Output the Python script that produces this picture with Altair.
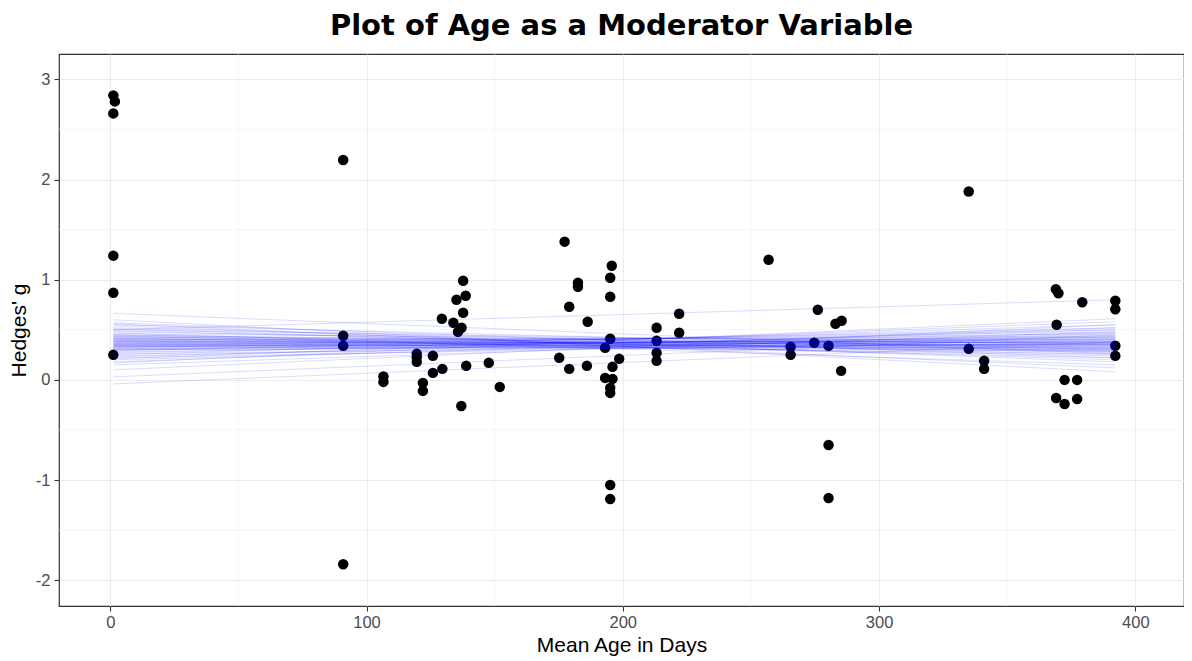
import altair as alt
import pandas as pd

# ---- data ----
age = [1.2, 1.8, 1.2, 1.2, 1.2, 1.2,
       90.9, 90.9, 90.9, 90.9,
       106.6, 106.6,
       119.6, 119.6, 119.6,
       122.0, 122.0,
       125.9, 125.9, 129.6, 129.4, 133.9, 135.1, 138.7, 137.7, 137.7,
       137.1, 135.7, 138.9, 137.0, 147.7, 152.0,
       177.3, 179.1, 179.1, 175.2, 182.5, 182.5, 186.3, 186.0,
       195.7, 195.1, 195.1, 195.1, 195.1, 195.1, 195.1, 195.1,
       193.1, 193.1, 198.6, 196.0, 196.0,
       213.2, 213.2, 213.2, 213.2, 222.0, 222.0,
       256.9, 265.5, 265.5, 274.7, 276.1, 280.3, 280.3, 280.3, 283.0, 285.4, 285.2,
       335.0, 335.0, 341.0, 341.0,
       369.0, 370.0, 369.3, 379.3,
       392.2, 392.2, 392.2, 392.2,
       372.4, 372.4, 377.3, 377.3, 369.1]
hedges_g = [2.84, 2.78, 2.66, 1.24, 0.87, 0.25,
            2.195, 0.44, 0.34, -1.84,
            0.035, -0.02,
            0.26, 0.225, 0.18,
            -0.03, -0.11,
            0.24, 0.07, 0.11, 0.61, 0.57, 0.80, 0.84, 0.99, 0.67,
            0.52, 0.48, 0.14, -0.26, 0.17, -0.07,
            1.38, 0.73, 0.11, 0.22, 0.97, 0.93, 0.58, 0.14,
            1.14, 1.02, 0.83, 0.41, -0.08, -0.13, -1.05, -1.19,
            0.32, 0.02, 0.21, 0.13, 0.01,
            0.52, 0.39, 0.27, 0.19, 0.66, 0.47,
            1.20, 0.33, 0.25, 0.37, 0.70, 0.34, -0.65, -1.18, 0.56, 0.59, 0.09,
            1.88, 0.31, 0.19, 0.11,
            0.905, 0.865, 0.55, 0.775,
            0.79, 0.705, 0.34, 0.24,
            0.0, -0.24, 0.0, -0.19, -0.18]

# regression lines: value of g at the first and last age
line_x = [1.2, 392.2]
line_start = [0.57, 0.55, 0.54, 0.52, 0.51, 0.50, 0.49, 0.48, 0.47, 0.46,
              0.45, 0.45, 0.44, 0.44, 0.43, 0.42, 0.42, 0.41, 0.41, 0.40,
              0.40, 0.39, 0.39, 0.38, 0.38, 0.37, 0.37, 0.36, 0.36, 0.35,
              0.35, 0.34, 0.34, 0.33, 0.33, 0.32, 0.32, 0.31, 0.30, 0.30,
              0.29, 0.28, 0.27, 0.26, 0.25, 0.24, 0.23, 0.22, 0.21, 0.20,
              0.18, 0.17, 0.15, 0.10, 0.03, -0.04, 0.665, 0.50, 0.60, 0.56,
              0.43, 0.39, 0.36, 0.33, 0.30, 0.41, 0.35, 0.31, 0.38, 0.34]
line_end = [0.22, 0.30, 0.18, 0.28, 0.20, 0.35, 0.25, 0.32, 0.15, 0.38,
            0.27, 0.31, 0.22, 0.36, 0.29, 0.40, 0.24, 0.33, 0.37, 0.28,
            0.42, 0.31, 0.35, 0.26, 0.44, 0.33, 0.38, 0.30, 0.46, 0.34,
            0.40, 0.29, 0.48, 0.36, 0.42, 0.32, 0.50, 0.38, 0.44, 0.35,
            0.52, 0.41, 0.47, 0.37, 0.55, 0.43, 0.50, 0.40, 0.58, 0.46,
            0.52, 0.61, 0.48, 0.55, 0.45, 0.38, 0.26, 0.80, 0.08, 0.12,
            0.34, 0.37, 0.39, 0.41, 0.36, 0.30, 0.32, 0.43, 0.35, 0.38]

x_ticks = [0, 100, 200, 300, 400]
y_ticks = [-2, -1, 0, 1, 2, 3]
x_minor = [50, 150, 250, 350]
y_minor = [-1.5, -0.5, 0.5, 1.5, 2.5]

points = pd.DataFrame({"age": age, "g": hedges_g})
rows = []
for i, (s, e) in enumerate(zip(line_start, line_end)):
    rows.append({"id": i, "age": line_x[0], "g": s})
    rows.append({"id": i, "age": line_x[1], "g": e})
lines = pd.DataFrame(rows)

FONT = "Liberation Sans"
xs = alt.Scale(domain=[-20, 419], nice=False, zero=False)
ys = alt.Scale(domain=[-2.257, 3.253], nice=False, zero=False)

common_axis = dict(labelFont=FONT, labelFontSize=16.5, labelColor="#4D4D4D",
                   titleFont=FONT, titleFontSize=21, titleColor="black",
                   titleFontWeight="normal", tickColor="#333333", tickSize=5,
                   tickWidth=1.1, domain=False, grid=True, gridColor="#EBEBEB",
                   gridWidth=1.1, labelExpr="toString(datum.value)")
xaxis = alt.Axis(values=x_ticks, title="Mean Age in Days", labelPadding=3,
                 titlePadding=4, **common_axis)
yaxis = alt.Axis(values=y_ticks, title="Hedges' g", labelPadding=4,
                 titlePadding=6, **common_axis)

minor_x = alt.Chart(pd.DataFrame({"age": x_minor})).mark_rule(
    color="#EEEEEE", strokeWidth=0.6
).encode(x=alt.X("age:Q", scale=xs, axis=xaxis))

minor_y = alt.Chart(pd.DataFrame({"g": y_minor})).mark_rule(
    color="#EEEEEE", strokeWidth=0.6
).encode(y=alt.Y("g:Q", scale=ys, axis=yaxis))

pts = alt.Chart(points).mark_circle(size=110, color="black", opacity=1).encode(
    x=alt.X("age:Q", scale=xs, axis=xaxis),
    y=alt.Y("g:Q", scale=ys, axis=yaxis),
)

lns = alt.Chart(lines).mark_line(color="#0000FF", opacity=0.16, strokeWidth=0.9).encode(
    x=alt.X("age:Q", scale=xs, axis=xaxis),
    y=alt.Y("g:Q", scale=ys, axis=yaxis),
    detail="id:N",
)

chart = alt.layer(minor_x, minor_y, pts, lns).properties(
    width=1125,
    height=552,
    autosize=alt.AutoSizeParams(type="none"),
    padding={"left": 51, "top": 46, "right": 0, "bottom": 58},
    title=alt.TitleParams("Plot of Age as a Moderator Variable", font="DejaVu Sans",
                          fontSize=29, fontWeight="bold", color="black",
                          anchor="middle", offset=13),
).configure_view(stroke="#333333", strokeWidth=1.2)

chart.save("out.html", embed_options={"renderer": "svg", "actions": False})
